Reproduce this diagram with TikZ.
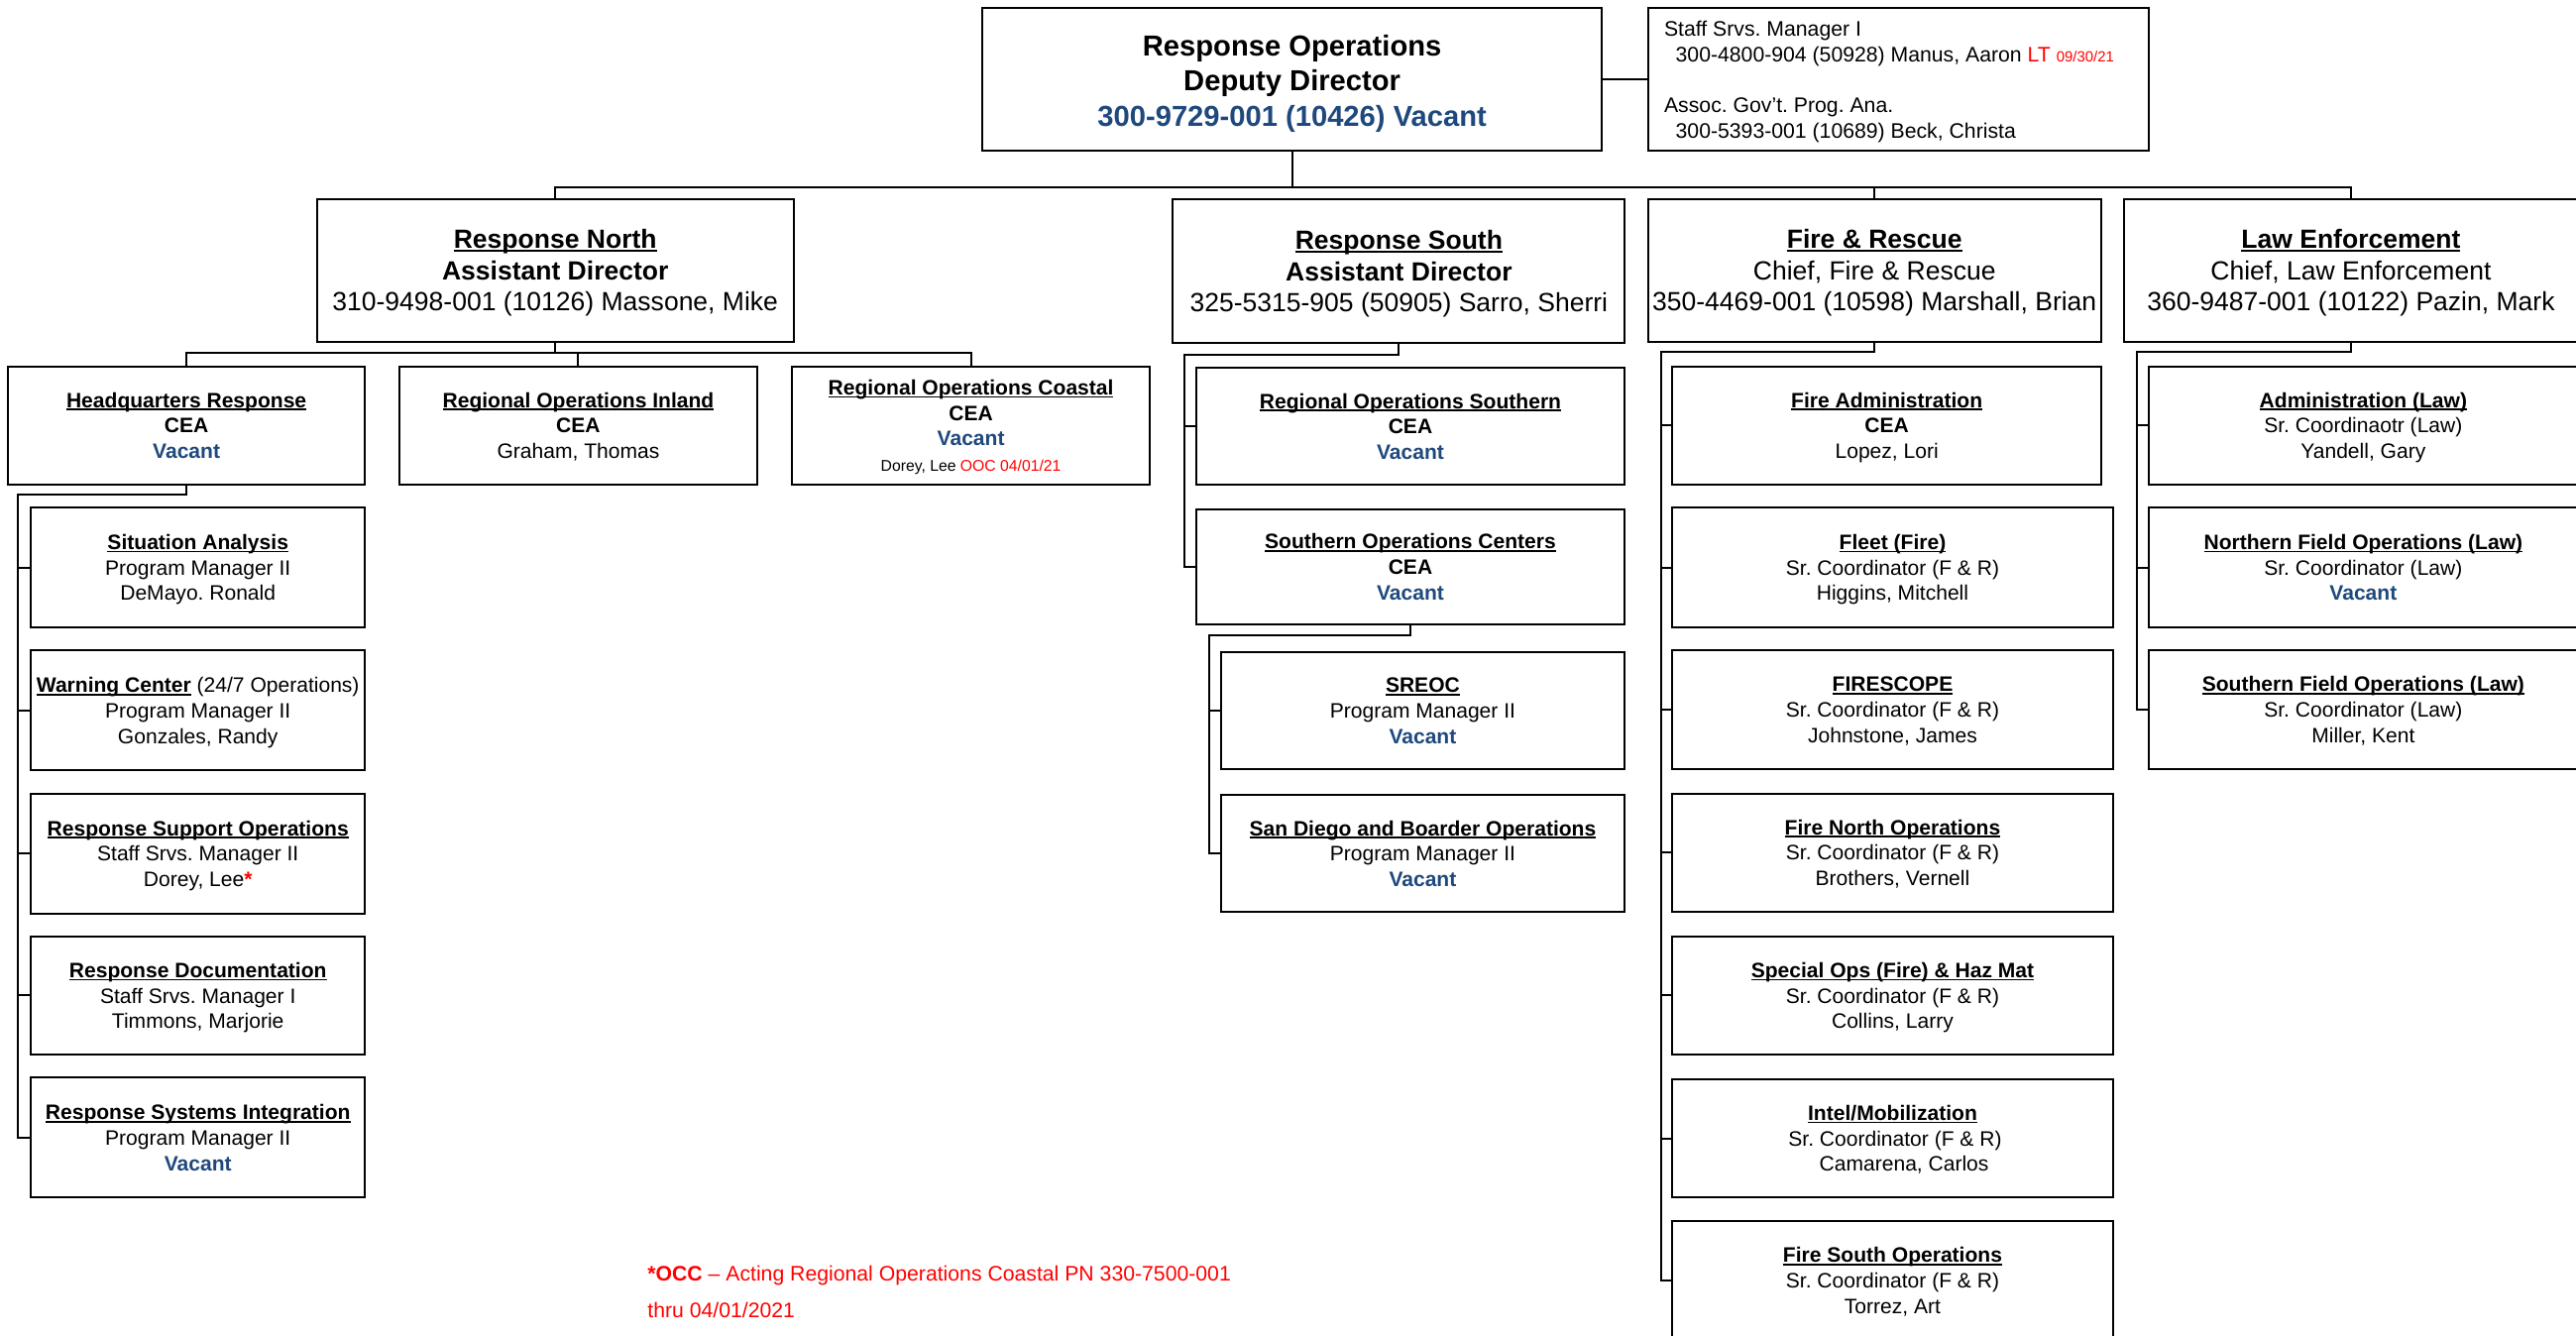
\documentclass[tikz,border=0pt]{standalone}
\usepackage{fontspec}
\setmainfont{Liberation Sans}
\definecolor{vac}{RGB}{31,73,125}
\definecolor{redx}{RGB}{255,0,0}
\newlength\ulxw
\newcommand\ulx[1]{\settowidth\ulxw{#1}\rlap{\rule[-0.13em]{\ulxw}{0.075em}}#1}
\newcommand\vac[1]{\textcolor{vac}{\textbf{#1}}}
\newcommand\tc[2][3pt]{\begin{tabular}{@{}c@{}}#2\\[-#1]\end{tabular}}
\newcommand\fA{\fontsize{17.6}{21.5}\selectfont}
\newcommand\fB{\fontsize{16}{19}\selectfont}
\newcommand\fC{\fontsize{12.7}{15.5}\selectfont}
\newcommand\fS{\fontsize{12.8}{15.5}\selectfont}
% \bx{name}{x1}{y1}{x2}{y2}{font}{text}
\newcommand\bx[7]{\node[box, minimum width={(#4-#2)*1pt}, minimum height={(#5-#3)*1pt}, font=#6] (#1) at ({(#2+#4)/2},{(#3+#5)/2}) {#7};}
\tikzset{
  box/.style={draw, line width=1.2pt, inner sep=0pt, anchor=center},
  conn/.style={draw, line width=1.2pt},
}
\begin{document}
\frenchspacing
\begin{tikzpicture}[x=1pt,y=-1pt]
\clip (0,0) rectangle (1568,813);
\fill[white] (0,0) rectangle (1568,813);

% top level
\bx{main}{598}{5}{975}{92}{\fA}{\tc[5pt]{\textbf{Response Operations}\\\textbf{Deputy Director}\\\vac{300-9729-001 (10426) Vacant}}}
\bx{staff}{1003}{5}{1308}{92}{\fS}{\begin{tabular}{@{}p{285pt}@{}}Staff Srvs. Manager I\\\hspace*{7pt}300-4800-904 (50928) Manus, Aaron \textcolor{redx}{LT {\fontsize{9}{10}\selectfont 09/30/21}}\\[15.5pt]Assoc. Gov’t. Prog. Ana.\\\hspace*{7pt}300-5393-001 (10689) Beck, Christa\\[-3pt]\end{tabular}}

% level 2
\bx{rn}{193}{121}{483}{208}{\fB}{\tc[4pt]{\ulx{\textbf{Response North}}\\\textbf{Assistant Director}\\310-9498-001 (10126) Massone, Mike}}
\bx{rs}{714}{121}{989}{209}{\fB}{\tc[4pt]{\ulx{\textbf{Response South}}\\\textbf{Assistant Director}\\325-5315-905 (50905) Sarro, Sherri}}
\bx{fr}{1003}{121}{1279}{208}{\fB}{\tc[4pt]{\ulx{\textbf{Fire \& Rescue}}\\Chief, Fire \& Rescue\\350-4469-001 (10598) Marshall, Brian}}
\bx{le}{1293}{121}{1569}{208}{\fB}{\tc[4pt]{\ulx{\textbf{Law Enforcement}}\\Chief, Law Enforcement\\360-9487-001 (10122) Pazin, Mark}}

% Response North children
\bx{hq}{5}{223}{222}{295}{\fC}{\tc{\ulx{\textbf{Headquarters Response}}\\\textbf{CEA}\\\vac{Vacant}}}
\bx{inland}{243}{223}{461}{295}{\fC}{\tc{\ulx{\textbf{Regional Operations Inland}}\\\textbf{CEA}\\Graham, Thomas}}
\bx{coastal}{482}{223}{700}{295}{\fC}{\tc{\ulx{\textbf{Regional Operations Coastal}}\\\textbf{CEA}\\\vac{Vacant}\\{\fontsize{9.5}{15.5}\selectfont Dorey, Lee \textcolor{redx}{OOC 04/01/21}}}}

% HQ children
\bx{sa}{19}{309}{222}{382}{\fC}{\tc{\ulx{\textbf{Situation Analysis}}\\Program Manager II\\DeMayo. Ronald}}
\bx{wc}{19}{396}{222}{469}{\fC}{\tc{\ulx{\textbf{Warning Center}} (24/7 Operations)\\Program Manager II\\Gonzales, Randy}}
\bx{rso}{19}{483}{222}{556}{\fC}{\tc{\ulx{\textbf{Response Support Operations}}\\Staff Srvs. Manager II\\Dorey, Lee\textcolor{redx}{\textbf{*}}}}
\bx{rd}{19}{570}{222}{642}{\fC}{\tc{\ulx{\textbf{Response Documentation}}\\Staff Srvs. Manager I\\Timmons, Marjorie}}
\bx{rsi}{19}{656}{222}{729}{\fC}{\tc{\ulx{\textbf{Response Systems Integration}}\\Program Manager II\\\vac{Vacant}}}

% Response South children
\bx{ros}{728}{224}{989}{295}{\fC}{\tc{\ulx{\textbf{Regional Operations Southern}}\\\textbf{CEA}\\\vac{Vacant}}}
\bx{soc}{728}{310}{989}{380}{\fC}{\tc{\ulx{\textbf{Southern Operations Centers}}\\\textbf{CEA}\\\vac{Vacant}}}
\bx{sreoc}{743}{397}{989}{468}{\fC}{\tc{\ulx{\textbf{SREOC}}\\Program Manager II\\\vac{Vacant}}}
\bx{sd}{743}{484}{989}{555}{\fC}{\tc{\ulx{\textbf{San Diego and Boarder Operations}}\\Program Manager II\\\vac{Vacant}}}

% Fire & Rescue children
\bx{fa}{1018}{223}{1279}{295}{\fC}{\tc{\ulx{\textbf{Fire Administration}}\\\textbf{CEA}\\Lopez, Lori}}
\bx{fleet}{1018}{309}{1286}{382}{\fC}{\tc{\ulx{\textbf{Fleet (Fire)}}\\Sr. Coordinator (F \& R)\\Higgins, Mitchell}}
\bx{fscope}{1018}{396}{1286}{468}{\fC}{\tc{\ulx{\textbf{FIRESCOPE}}\\Sr. Coordinator (F \& R)\\Johnstone, James}}
\bx{fno}{1018}{483}{1286}{555}{\fC}{\tc{\ulx{\textbf{Fire North Operations}}\\Sr. Coordinator (F \& R)\\Brothers, Vernell}}
\bx{spo}{1018}{570}{1286}{642}{\fC}{\tc{\ulx{\textbf{Special Ops (Fire) \& Haz Mat}}\\Sr. Coordinator (F \& R)\\Collins, Larry}}
\bx{intel}{1018}{657}{1286}{729}{\fC}{\tc{\ulx{\textbf{Intel/Mobilization}}\\\hspace*{3pt}Sr. Coordinator (F \& R)\\\hspace*{14pt}Camarena, Carlos}}
\bx{fso}{1018}{743}{1286}{816}{\fC}{\tc{\ulx{\textbf{Fire South Operations}}\\Sr. Coordinator (F \& R)\\Torrez, Art}}

% Law Enforcement children
\bx{adm}{1308}{223}{1569}{295}{\fC}{\tc{\ulx{\textbf{Administration (Law)}}\\Sr. Coordinaotr (Law)\\Yandell, Gary}}
\bx{nfo}{1308}{309}{1569}{382}{\fC}{\tc{\ulx{\textbf{Northern Field Operations (Law)}}\\Sr. Coordinator (Law)\\\vac{Vacant}}}
\bx{sfo}{1308}{396}{1569}{468}{\fC}{\tc{\ulx{\textbf{Southern Field Operations (Law)}}\\Sr. Coordinator (Law)\\Miller, Kent}}

% footnote
\node[anchor=base west, align=left, text=redx, inner sep=0pt, font=\fontsize{12.8}{22}\selectfont] (note) at (394,802) {\textbf{*OCC} – Acting Regional Operations Coastal PN 330-7500-001\\thru 04/01/2021};

% connectors
\coordinate (busY) at (0,114);
\draw[conn] (main.east) -- (staff.west);
\draw[conn] (main.south) -- (main.south |- busY);
\draw[conn] (rn.north) -- (rn.north |- busY) -| (le.north);
\draw[conn] (fr.north) -- (fr.north |- busY);

\coordinate (rnbus) at (0,215);
\draw[conn] (rn.south) -- (rn.south |- rnbus);
\draw[conn] (hq.north) -- (hq.north |- rnbus) -| (coastal.north);
\draw[conn] (inland.north) -- (inland.north |- rnbus);

\coordinate (hqbus) at (11,301);
\draw[conn] (hq.south) |- (hqbus) |- (rsi.west);
\foreach \n in {sa,wc,rso,rd} \draw[conn] (hqbus |- \n.west) -- (\n.west);

\coordinate (rsbus) at (721,216);
\draw[conn] (rs.south) |- (rsbus) |- (soc.west);
\draw[conn] (rsbus |- ros.west) -- (ros.west);

\coordinate (socbus) at (736,387);
\draw[conn] (soc.south) |- (socbus) |- (sd.west);
\draw[conn] (socbus |- sreoc.west) -- (sreoc.west);

\coordinate (frbus) at (1011,214);
\draw[conn] (fr.south) |- (frbus) |- (fso.west);
\foreach \n in {fa,fleet,fscope,fno,spo,intel} \draw[conn] (frbus |- \n.west) -- (\n.west);

\coordinate (lebus) at (1301,214);
\draw[conn] (le.south) |- (lebus) |- (sfo.west);
\foreach \n in {adm,nfo} \draw[conn] (lebus |- \n.west) -- (\n.west);
\end{tikzpicture}
\end{document}
